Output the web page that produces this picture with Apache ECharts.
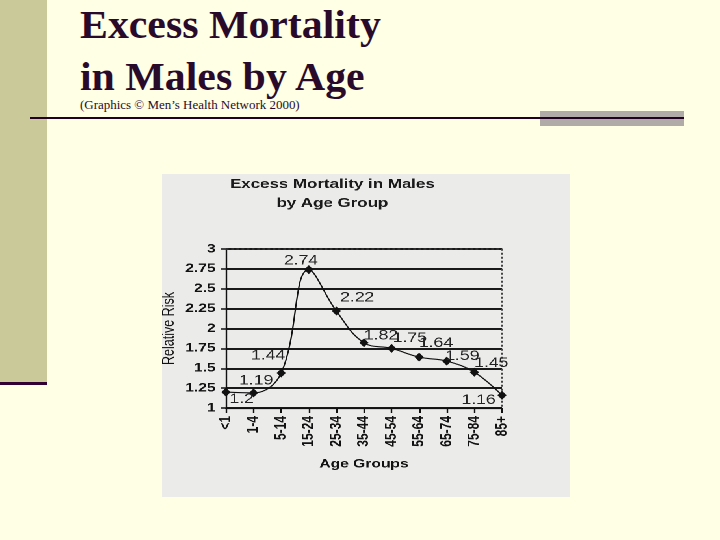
<!DOCTYPE html>
<html>
<head>
<meta charset="utf-8">
<script src="https://cdn.jsdelivr.net/npm/echarts@6/dist/echarts.min.js"></script>
<style>
html,body{margin:0;padding:0;background:#FFFFE5;width:720px;height:540px;overflow:hidden;position:relative;}
.abs{position:absolute;}
#leftbar{left:0;top:0;width:47px;height:382px;background:#C9C99A;}
#leftline{left:0;top:382px;width:47px;height:3px;background:#330033;}
#greybar{left:540px;top:111px;width:144px;height:15px;background:#B0ABA8;}
#hline{left:30px;top:117px;width:654px;height:2px;background:#220022;}
.ttl{left:80px;font-family:"Liberation Serif",serif;font-weight:bold;font-size:41px;line-height:41px;color:#2A0A2A;white-space:nowrap;transform-origin:0 0;transform:scaleX(1.02);}
#t1{top:4px;}
#t2{top:56px;}
#sub{left:80px;top:99px;font-family:"Liberation Serif",serif;font-weight:normal;font-size:12px;line-height:12px;color:#2A0A2A;white-space:nowrap;transform-origin:0 0;transform:scaleX(1.08);}
#chartwrap{left:162px;top:174px;width:314px;height:323px;background:#EBEBEA;transform-origin:0 0;transform:scaleX(1.3);}
#c{width:314px;height:323px;}
</style>
</head>
<body>
<div class="abs" id="leftbar"></div>
<div class="abs" id="leftline"></div>
<div class="abs" id="greybar"></div>
<div class="abs" id="hline"></div>
<div class="abs ttl" id="t1">Excess Mortality</div>
<div class="abs ttl" id="t2">in Males by Age</div>
<div class="abs" id="sub">(Graphics &copy; Men&rsquo;s Health Network 2000)</div>
<div class="abs" id="chartwrap"><div id="c"></div></div>
<script>
var chartTitle = ['Excess Mortality in Males', 'by Age Group'];
var categories = ['<1','1-4','5-14','15-24','25-34','35-44','45-54','55-64','65-74','75-84','85+'];
var relativeRisk = [1.2, 1.19, 1.44, 2.74, 2.22, 1.82, 1.75, 1.64, 1.59, 1.45, 1.16];
var yTicks = [1, 1.25, 1.5, 1.75, 2, 2.25, 2.5, 2.75, 3];

var labelOffsets = [[12,7],[2,-12],[-10,-17],[-6,-9],[16,-13],[13,-7],[14,-10],[13,-14],[12,-5],[13,-9],[-18,5]];

var chart = echarts.init(document.getElementById('c'), null, {renderer:'canvas', devicePixelRatio:2});
var seriesData = relativeRisk.map(function(v,i){
  return {value:v, label:{offset:labelOffsets[i]}};
});

var baseGraphic = [
  {type:'text', x:131, y:4, style:{text:chartTitle[0], font:'bold 13px "Liberation Sans"', fill:'#1a1a1a', textAlign:'center', textVerticalAlign:'top'}, z:2},
  {type:'text', x:131, y:23, style:{text:chartTitle[1], font:'bold 13px "Liberation Sans"', fill:'#1a1a1a', textAlign:'center', textVerticalAlign:'top'}, z:2}
];

var option = {
  backgroundColor:'transparent',
  animation:false,
  graphic:baseGraphic,
  grid:{left:49.2, right:52.5, top:75, bottom:89, show:false, containLabel:false, outerBoundsMode:'none'},
  xAxis:{
    type:'category', data:categories, boundaryGap:false,
    axisLine:{lineStyle:{color:'#111', width:1.3}},
    axisTick:{show:true, length:5, lineStyle:{color:'#111', width:1.2}},
    axisLabel:{rotate:90, color:'#111', fontWeight:'bold', fontSize:12, fontFamily:'Liberation Sans', margin:8, interval:0},
    name:'Age Groups', nameLocation:'middle', nameGap:50, nameMoveOverlap:false,
    nameTextStyle:{color:'#111', fontWeight:'bold', fontSize:12, fontFamily:'Liberation Sans'},
    splitLine:{show:false}
  },
  yAxis:{
    type:'value', min:yTicks[0], max:yTicks[yTicks.length-1], interval:yTicks[1]-yTicks[0],
    axisLine:{show:true, lineStyle:{color:'#111', width:1.2}},
    axisTick:{show:true, length:4, lineStyle:{color:'#111', width:1.5}},
    axisLabel:{color:'#111', fontWeight:'bold', fontSize:12, fontFamily:'Liberation Sans', margin:8,
      formatter:function(v){return String(v);}},
    splitLine:{show:true, lineStyle:{color:'#1a1a1a', width:2}},
    name:'Relative Risk', nameLocation:'middle', nameGap:37, nameMoveOverlap:false,
    nameTextStyle:{color:'#111', fontSize:12.5, fontFamily:'Liberation Sans'}
  },
  series:[{
    type:'line', data:seriesData, smooth:0.4,
    symbol:'diamond', symbolSize:[7,9],
    lineStyle:{color:'#111', width:1.1},
    itemStyle:{color:'#111'},
    label:{show:true, position:'inside', color:'#222', fontSize:13.5, fontFamily:'Liberation Sans', align:'center', verticalAlign:'middle'}
  }]
};
chart.setOption(option);

// dotted top/right border of the plot
var tl = chart.convertToPixel({xAxisIndex:0,yAxisIndex:0},[0,yTicks[yTicks.length-1]]);
var tr = chart.convertToPixel({xAxisIndex:0,yAxisIndex:0},[categories.length-1,yTicks[yTicks.length-1]]);
var br = chart.convertToPixel({xAxisIndex:0,yAxisIndex:0},[categories.length-1,yTicks[0]]);
chart.setOption({graphic: baseGraphic.concat([
  {type:'polyline', shape:{points:[tl,tr,br]}, style:{stroke:'#444', lineWidth:1, lineDash:[2,2], fill:null}, z:3}
])});
</script>
</body>
</html>
